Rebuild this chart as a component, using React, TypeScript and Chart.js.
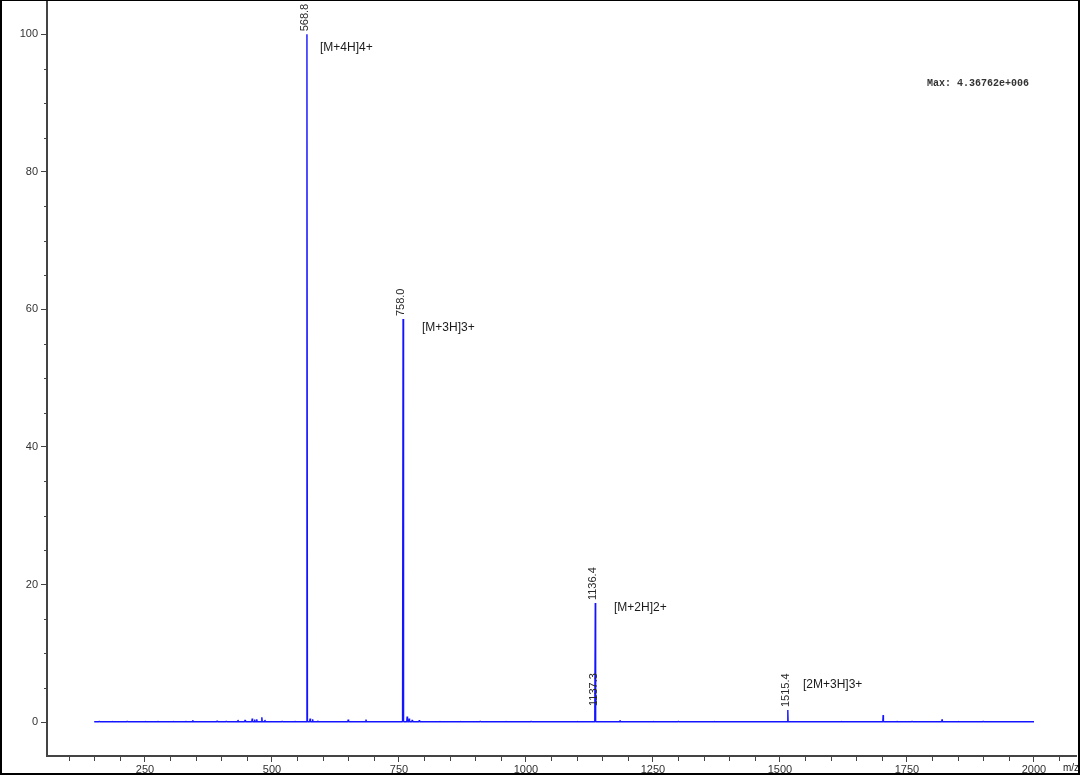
import React, { useEffect, useRef } from "react";
import { Chart, registerables } from "chart.js";

Chart.register(...registerables);

// ---- data ----
const peakMz = [568.8, 758.0, 1136.4, 1137.3, 1515.4, 1703.0, 1819.0];
const peakIntensity = [100, 58.6, 17.3, 1.9, 1.75, 1.0, 0.4];

const noiseMz = [160, 185, 215, 250, 275, 305, 330, 344, 365, 392, 410, 433, 447, 461, 466, 470, 480, 486, 520, 545, 575, 580, 590, 650, 685, 700, 766, 770, 776, 790, 830, 870, 910, 960, 1010, 1060, 1100, 1185, 1250, 1300, 1370, 1440, 1560, 1620, 1730, 1760, 1850, 1900, 1950];
const noiseIntensity = [0.1, 0.1, 0.12, 0.1, 0.15, 0.12, 0.15, 0.25, 0.15, 0.2, 0.15, 0.3, 0.3, 0.5, 0.35, 0.4, 0.7, 0.3, 0.12, 0.15, 0.5, 0.4, 0.2, 0.35, 0.35, 0.1, 0.8, 0.5, 0.3, 0.25, 0.1, 0.1, 0.15, 0.1, 0.1, 0.12, 0.1, 0.25, 0.1, 0.1, 0.1, 0.12, 0.1, 0.1, 0.15, 0.1, 0.1, 0.12, 0.1];

const scanRange = [150, 2000];
const baselineLevel = 0.05;

const peakLabels = ["568.8", "758.0", "1136.4", "1137.3", "1515.4"];
const peakLabelMz = [568.8, 758.0, 1136.4, 1137.3, 1515.4];
const peakLabelIntensity = [100, 58.6, 17.3, 1.9, 1.75];

const ionNames = ["[M+4H]4+", "[M+3H]3+", "[M+2H]2+", "[2M+3H]3+"];
const ionMz = [594.5, 795.3, 1173.2, 1545.3];
const ionY = [98.0, 57.3, 16.6, 5.5];

const xTickValues = [250, 500, 750, 1000, 1250, 1500, 1750, 2000];
const yTickValues = [0, 20, 40, 60, 80, 100];
const maxText = "Max: 4.36762e+006";

// ---- build profile points from peak lists ----
function buildProfile() {
  const pts: { x: number; y: number }[] = [];
  const add = (mz: number, h: number, w: number) => {
    pts.push({ x: mz - w, y: baselineLevel });
    pts.push({ x: mz, y: h });
    pts.push({ x: mz + w, y: baselineLevel });
  };
  peakMz.forEach((m, i) => add(m, peakIntensity[i], i < 3 ? 1.0 : 0.6));
  noiseMz.forEach((m, i) => add(m, noiseIntensity[i], 0.8));
  pts.push({ x: scanRange[0], y: baselineLevel });
  pts.push({ x: scanRange[1], y: baselineLevel });
  pts.sort((a, b) => a.x - b.x);
  return pts;
}

const FONT = "Arial, 'Liberation Sans', sans-serif";
const AXIS_COLOR = "#444444";

const decorPlugin = {
  id: "decor",
  afterDraw(chart: any) {
    const ctx = chart.ctx;
    const xs = chart.scales.x;
    const ys = chart.scales.y;
    const area = chart.chartArea;
    ctx.save();

    // minor ticks
    ctx.strokeStyle = AXIS_COLOR;
    ctx.lineWidth = 1;
    for (let v = 100; v <= 2050; v += 50) {
      if (v % 250 === 0) continue;
      const px = Math.round(xs.getPixelForValue(v)) + 0.5;
      ctx.beginPath();
      ctx.moveTo(px, area.bottom);
      ctx.lineTo(px, area.bottom + 5);
      ctx.stroke();
    }
    for (let v = 5; v <= 100; v += 5) {
      if (v % 20 === 0) continue;
      const py = Math.round(ys.getPixelForValue(v)) + 0.5;
      ctx.beginPath();
      ctx.moveTo(area.left - 3, py);
      ctx.lineTo(area.left, py);
      ctx.stroke();
    }

    // peak labels (rotated)
    ctx.fillStyle = "#2a2a2a";
    ctx.font = `11px ${FONT}`;
    peakLabels.forEach((t, i) => {
      const px = xs.getPixelForValue(peakLabelMz[i]);
      const py = ys.getPixelForValue(peakLabelIntensity[i]);
      ctx.save();
      ctx.translate(px - 2, py - 3);
      ctx.rotate(-Math.PI / 2);
      ctx.textAlign = "left";
      ctx.textBaseline = "middle";
      ctx.fillText(t, 0, 0);
      ctx.restore();
    });

    // ion annotations
    ctx.font = `12px ${FONT}`;
    ctx.fillStyle = "#1a1a1a";
    ctx.textAlign = "left";
    ctx.textBaseline = "middle";
    ionNames.forEach((t, i) => {
      ctx.fillText(t, xs.getPixelForValue(ionMz[i]), ys.getPixelForValue(ionY[i]));
    });

    // max text
    ctx.font = "bold 10px 'Liberation Mono', 'Courier New', monospace";
    ctx.fillStyle = "#333333";
    ctx.fillText(maxText, 927, 83);

    // m/z unit
    ctx.font = `10px ${FONT}`;
    ctx.fillStyle = "#222222";
    ctx.fillText("m/z", 1063, 768);

    // outer frame
    ctx.fillStyle = "#000000";
    const W = chart.width;
    const H = chart.height;
    ctx.fillRect(0, 0, W, 1);
    ctx.fillRect(0, 0, 2, H);
    ctx.fillRect(W - 2, 0, 2, H);
    ctx.fillRect(0, H - 2, W, 2);
    ctx.restore();
  },
};

export default function App() {
  const ref = useRef<HTMLCanvasElement | null>(null);
  useEffect(() => {
    if (!ref.current) return;
    const chart = new Chart(ref.current, {
      type: "line",
      data: {
        datasets: [
          {
            data: buildProfile(),
            borderColor: "#1414ff",
            borderWidth: 1.4,
            borderJoinStyle: "bevel",
            pointRadius: 0,
            tension: 0,
            fill: false,
          },
        ],
      },
      options: {
        animation: false,
        responsive: false,
        maintainAspectRatio: false,
        layout: { padding: { left: 0, top: 1, right: 4, bottom: 0 } },
        plugins: { legend: { display: false }, tooltip: { enabled: false } },
        scales: {
          x: {
            type: "linear",
            min: 57.1,
            max: 2082.7,
            afterBuildTicks: (s: any) => {
              s.ticks = xTickValues.map((v) => ({ value: v }));
            },
            afterFit: (s: any) => {
              s.height = 19;
              s.paddingLeft = 0;
              s.paddingRight = 0;
              s.paddingTop = 0;
              s.paddingBottom = 0;
            },
            grid: { drawOnChartArea: false, drawTicks: true, tickLength: 6, color: AXIS_COLOR, lineWidth: 1 },
            border: { display: true, color: AXIS_COLOR, width: 2 },
            ticks: {
              color: "#333333",
              font: { family: FONT, size: 11 },
              padding: 1,
              maxRotation: 0,
              autoSkip: false,
              callback: (v: any) => String(v),
            },
          },
          y: {
            type: "linear",
            min: -4.94,
            max: 104.85,
            afterBuildTicks: (s: any) => {
              s.ticks = yTickValues.map((v) => ({ value: v }));
            },
            afterFit: (s: any) => {
              s.width = 47;
              s.paddingTop = 0;
              s.paddingBottom = 0;
              s.paddingLeft = 0;
              s.paddingRight = 0;
            },
            grid: { drawOnChartArea: false, drawTicks: true, tickLength: 6, color: AXIS_COLOR, lineWidth: 1 },
            border: { display: true, color: AXIS_COLOR, width: 2 },
            ticks: {
              color: "#333333",
              font: { family: FONT, size: 11 },
              padding: 3,
              autoSkip: false,
              callback: (v: any) => String(v),
            },
          },
        },
      },
      plugins: [decorPlugin],
    });
    return () => chart.destroy();
  }, []);

  return (
    <div style={{ position: "fixed", left: 0, top: 0, width: 1080, height: 775, background: "#ffffff" }}>
      <canvas ref={ref} width={1080} height={775} style={{ display: "block" }} />
    </div>
  );
}
